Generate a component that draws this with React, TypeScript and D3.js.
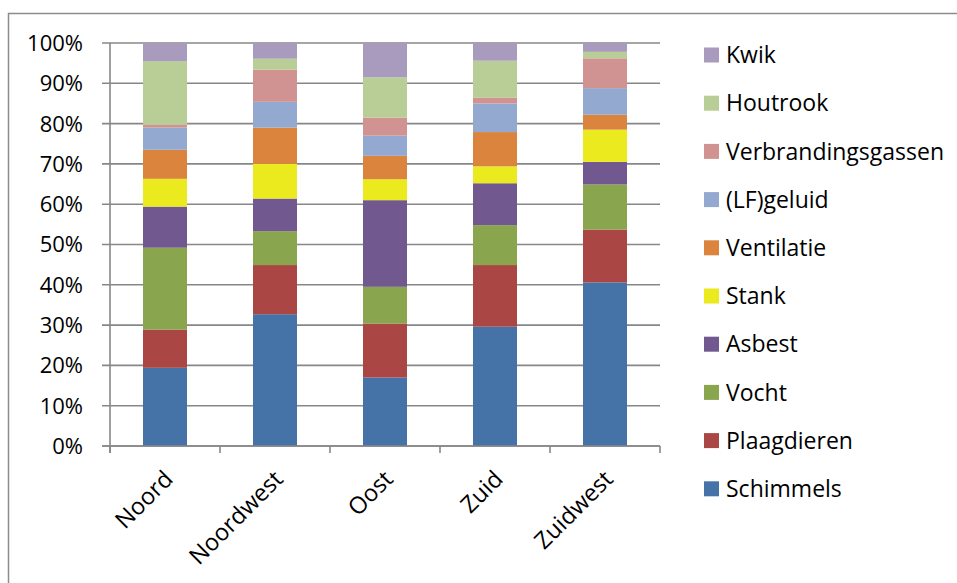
import React from 'react';
import * as d3 from 'd3';

// regions on the x axis
const regions = ['Noord', 'Noordwest', 'Oost', 'Zuid', 'Zuidwest'];

// share of complaints per region (percent)
const schimmels = [19.4, 32.7, 17.0, 29.6, 40.6];
const plaagdieren = [9.5, 12.2, 13.4, 15.3, 13.1];
const vocht = [20.3, 8.4, 9.1, 9.9, 11.2];
const asbest = [10.2, 8.1, 21.5, 10.4, 5.6];
const stank = [6.9, 8.6, 5.2, 4.2, 8.0];
const ventilatie = [7.2, 9.0, 5.8, 8.5, 3.7];
const lfGeluid = [5.5, 6.4, 5.0, 7.1, 6.6];
const verbrandingsgassen = [0.7, 8.0, 4.5, 1.4, 7.4];
const houtrook = [15.8, 2.7, 10.0, 9.2, 1.6];
const kwik = [4.5, 3.9, 8.5, 4.4, 2.2];

const yTicks = [0, 0.1, 0.2, 0.3, 0.4, 0.5, 0.6, 0.7, 0.8, 0.9, 1];

const series = [
  { key: 'Schimmels', values: schimmels, color: '#4572A7' },
  { key: 'Plaagdieren', values: plaagdieren, color: '#AA4643' },
  { key: 'Vocht', values: vocht, color: '#89A54E' },
  { key: 'Asbest', values: asbest, color: '#71588F' },
  { key: 'Stank', values: stank, color: '#EAEA1F' },
  { key: 'Ventilatie', values: ventilatie, color: '#DB843D' },
  { key: '(LF)geluid', values: lfGeluid, color: '#93A9CF' },
  { key: 'Verbrandingsgassen', values: verbrandingsgassen, color: '#D19392' },
  { key: 'Houtrook', values: houtrook, color: '#B9CD96' },
  { key: 'Kwik', values: kwik, color: '#A99BBD' },
];

const W = 957;
const H = 583;
const margin = { top: 43, left: 110, right: 297, bottom: 137 };

export default function App() {
  const innerW = W - margin.left - margin.right;
  const innerH = H - margin.top - margin.bottom;

  const rows = regions.map((r, i) => {
    const row: Record<string, any> = { region: r };
    series.forEach(s => { row[s.key] = s.values[i]; });
    return row;
  });

  const stacked = d3.stack<any>()
    .keys(series.map(s => s.key))
    .offset(d3.stackOffsetExpand)(rows);

  const x = d3.scaleBand().domain(regions).range([0, innerW]).paddingInner(0.6).paddingOuter(0.3);
  const y = d3.scaleLinear().domain([0, 1]).range([innerH, 0]);
  const fmt = d3.format('.0%');
  const font = '"Open Sans", Lato, sans-serif';
  const grid = '#878787';

  const legendItems = [...series].reverse();

  return (
    <svg width={W} height={H} style={{ position: 'fixed', left: 0, top: 0, display: 'block', background: '#fff' }}>
      {/* outer chart frame */}
      <rect x={8.5} y={13.5} width={W + 10} height={H + 10} fill="none" stroke="#8c8c8c" strokeWidth={1.5} />
      <g transform={`translate(${margin.left},${margin.top})`}>
        {/* gridlines and y ticks */}
        {yTicks.map(t => (
          <g key={t}>
            <line x1={-8} x2={innerW} y1={y(t)} y2={y(t)} stroke={grid} strokeWidth={1.6} />
            <text x={-27} y={y(t)} dy="0.36em" textAnchor="end" fontFamily={font} fontSize={22} fill="#000">
              {fmt(t)}
            </text>
          </g>
        ))}
        {/* bars */}
        {stacked.map((layer, li) => (
          <g key={layer.key} fill={series[li].color}>
            {layer.map((d, i) => (
              <rect
                key={i}
                x={x(regions[i])}
                width={x.bandwidth()}
                y={y(d[1])}
                height={y(d[0]) - y(d[1])}
              />
            ))}
          </g>
        ))}
        {/* axes */}
        <line x1={0} x2={0} y1={0} y2={innerH + 7} stroke={grid} strokeWidth={1.6} />
        <line x1={-8} x2={innerW} y1={innerH} y2={innerH} stroke={grid} strokeWidth={1.6} />
        {d3.range(regions.length + 1).map(i => (
          <line key={i} x1={(innerW / regions.length) * i} x2={(innerW / regions.length) * i}
            y1={innerH} y2={innerH + 7} stroke={grid} strokeWidth={1.6} />
        ))}
        {regions.map(r => {
          const cx = (x(r) ?? 0) + x.bandwidth() / 2 - 3;
          const cy = innerH + 22;
          return (
            <text key={r} transform={`translate(${cx},${cy}) rotate(-45)`} textAnchor="end" dy="0.75em"
              fontFamily={font} fontSize={23.5} fill="#000">
              {r}
            </text>
          );
        })}
      </g>
      {/* legend */}
      <g transform="translate(704,55)">
        {legendItems.map((s, i) => (
          <g key={s.key} transform={`translate(0,${i * 48.2})`}>
            <rect x={0} y={-7.5} width={15} height={15} fill={s.color} />
            <text x={22} y={0} dy="0.36em" fontFamily={font} fontSize={23} fill="#000">{s.key}</text>
          </g>
        ))}
      </g>
    </svg>
  );
}
